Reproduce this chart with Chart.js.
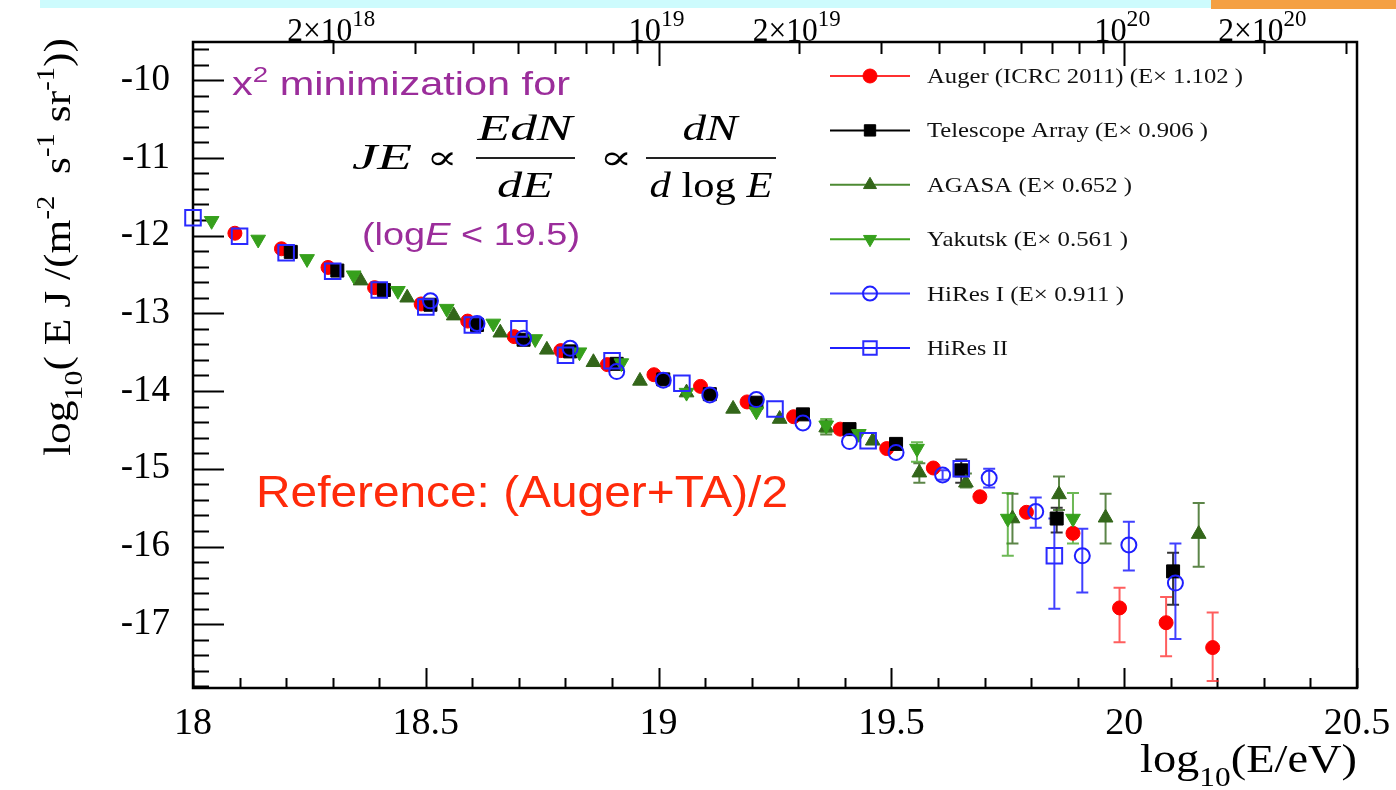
<!DOCTYPE html>
<html>
<head>
<meta charset="utf-8">
<script src="https://cdn.jsdelivr.net/npm/chart.js@4.4.1/dist/chart.umd.min.js"></script>
<style>
  html, body { margin: 0; padding: 0; background: #fff; }
  #wrap { position: relative; width: 1396px; height: 790px; overflow: hidden; }
  #c { position: absolute; left: 0; top: 0; }
  #barCyan { position: absolute; left: 40px; top: 0; width: 1171px; height: 8px; background: #cdfbfd; }
  #barOrange { position: absolute; left: 1211px; top: 0; width: 185px; height: 9px; background: #f4a043; }
</style>
</head>
<body>
<div id="wrap">
  <canvas id="c" width="1396" height="790"></canvas>
  <div id="barCyan"></div>
  <div id="barOrange"></div>
</div>
<script>
// ---------------- DATA ----------------
const xTickValues = [18, 18.5, 19, 19.5, 20, 20.5];
const yTickValues = [-17, -16, -15, -14, -13, -12, -11, -10];
const topTickEnergies = [2e18, 3e18, 4e18, 5e18, 6e18, 7e18, 8e18, 9e18, 1e19, 2e19, 3e19, 4e19, 5e19, 6e19, 7e19, 8e19, 9e19, 1e20, 2e20, 3e20];
const topLabelEnergies = [2e18, 1e19, 2e19, 1e20, 2e20];
const topLabelMantissa = ['2×10', '10', '2×10', '10', '2×10'];
const topLabelExponent = ['18', '19', '19', '20', '20'];

const seriesNames = ['Auger (ICRC 2011) (E× 1.102 )', 'Telescope Array (E× 0.906 )', 'AGASA (E× 0.652 )', 'Yakutsk (E× 0.561 )', 'HiRes I (E× 0.911 )', 'HiRes II'];

const augerX = [18.09, 18.19, 18.29, 18.39, 18.49, 18.59, 18.69, 18.79, 18.89, 18.99, 19.09, 19.19, 19.29, 19.39, 19.49, 19.59, 19.69, 19.79, 19.89, 19.99, 20.09, 20.19];
const augerY = [-11.97, -12.17, -12.41, -12.67, -12.88, -13.10, -13.30, -13.48, -13.66, -13.79, -13.94, -14.14, -14.33, -14.49, -14.74, -14.99, -15.36, -15.56, -15.83, -16.79, -16.98, -17.30];
const augerErrHigh = [null, null, null, null, null, null, null, null, null, null, null, null, null, null, null, null, null, null, null, -16.53, -16.65, -16.85];
const augerErrLow  = [null, null, null, null, null, null, null, null, null, null, null, null, null, null, null, null, null, null, null, -17.23, -17.41, -17.73];

const taX = [18.21, 18.31, 18.41, 18.51, 18.61, 18.71, 18.81, 18.91, 19.01, 19.11, 19.21, 19.31, 19.41, 19.51, 19.65, 19.855, 20.105];
const taY = [-12.21, -12.45, -12.70, -12.89, -13.15, -13.34, -13.49, -13.65, -13.85, -14.04, -14.15, -14.30, -14.49, -14.68, -15.02, -15.64, -16.32];
const taErrHigh = [null, null, null, null, null, null, null, null, null, null, null, null, null, null, -14.88, -15.50, -16.08];
const taErrLow  = [null, null, null, null, null, null, null, null, null, null, null, null, null, null, -15.18, -15.82, -16.75];

const agasaX = [18.36, 18.46, 18.56, 18.66, 18.76, 18.86, 18.96, 19.06, 19.16, 19.26, 19.36, 19.46, 19.56, 19.66, 19.76, 19.86, 19.96, 20.16];
const agasaY = [-12.58, -12.80, -13.03, -13.25, -13.47, -13.63, -13.87, -14.02, -14.23, -14.36, -14.47, -14.64, -15.05, -15.18, -15.64, -15.33, -15.63, -15.84];
const agasaErrHigh = [null, null, null, null, null, null, null, null, null, null, -14.39, null, -14.93, -15.06, -15.32, -15.10, -15.32, -15.44];
const agasaErrLow  = [null, null, null, null, null, null, null, null, null, null, -14.56, null, -15.18, -15.24, -15.96, -15.53, -15.96, -16.26];

const yakutskX = [18.04, 18.14, 18.245, 18.345, 18.44, 18.545, 18.645, 18.735, 18.83, 18.92, 19.06, 19.21, 19.36, 19.43, 19.555, 19.75, 19.89];
const yakutskY = [-11.81, -12.05, -12.30, -12.51, -12.71, -12.94, -13.13, -13.33, -13.50, -13.64, -14.02, -14.26, -14.44, -14.55, -14.74, -15.64, -15.64];
const yakutskErrHigh = [null, null, null, null, null, null, null, null, null, null, null, null, -14.36, null, -14.66, -15.31, -15.31];
const yakutskErrLow  = [null, null, null, null, null, null, null, null, null, null, null, null, -14.53, null, -14.91, -16.12, -15.96];

const hires1X = [18.51, 18.61, 18.71, 18.81, 18.91, 19.01, 19.11, 19.21, 19.31, 19.41, 19.51, 19.61, 19.71, 19.81, 19.91, 20.01, 20.11];
const hires1Y = [-12.84, -13.13, -13.32, -13.45, -13.75, -13.86, -14.05, -14.11, -14.41, -14.65, -14.79, -15.08, -15.12, -15.55, -16.12, -15.98, -16.47];
const hires1ErrHigh = [null, null, null, null, null, null, null, null, null, null, null, -15.02, -15.00, -15.37, -15.77, -15.68, -15.96];
const hires1ErrLow  = [null, null, null, null, null, null, null, null, null, null, null, -15.14, -15.24, -15.76, -16.59, -16.31, -17.19];

const hires2X = [18.00, 18.10, 18.20, 18.30, 18.40, 18.50, 18.60, 18.70, 18.80, 18.90, 19.05, 19.25, 19.45, 19.65, 19.85];
const hires2Y = [-11.77, -12.01, -12.22, -12.46, -12.70, -12.92, -13.15, -13.20, -13.54, -13.61, -13.90, -14.23, -14.64, -15.00, -16.12];
const hires2ErrHigh = [null, null, null, null, null, null, null, null, null, null, null, null, null, null, -15.64];
const hires2ErrLow  = [null, null, null, null, null, null, null, null, null, null, null, null, null, null, -16.80];

// ---------------- helpers ----------------
function pts(xs, ys) { return xs.map((x, i) => ({ x: x, y: ys[i] })); }

// draw a sequence of styled text runs, optionally stretched horizontally to a target width
function drawRuns(ctx, runs, x, y, targetWidth, align) {
  ctx.save();
  let natural = 0;
  const widths = runs.map(r => { ctx.font = r.font; const w = ctx.measureText(r.t).width + (r.gap || 0); natural += w; return w; });
  const sx = targetWidth ? targetWidth / natural : 1;
  const total = natural * sx;
  let startX = x;
  if (align === 'center') startX = x - total / 2;
  else if (align === 'right') startX = x - total;
  ctx.translate(startX, y);
  ctx.scale(sx, 1);
  ctx.textBaseline = 'alphabetic';
  ctx.textAlign = 'left';
  let cx = 0;
  runs.forEach((r, i) => {
    ctx.font = r.font;
    ctx.fillStyle = r.color || '#000';
    ctx.fillText(r.t, cx, r.dy || 0);
    cx += widths[i];
  });
  ctx.restore();
}

const SERIF = "'Liberation Serif', 'DejaVu Serif', serif";
const SANS = "'Liberation Sans', Arial, sans-serif";

// ---------------- plugins ----------------
const framePlugin = {
  id: 'frame',
  beforeDatasetsDraw(chart) {
    const { ctx, chartArea: { left, right, top, bottom }, scales: { x, y } } = chart;
    ctx.save();
    ctx.strokeStyle = '#000';
    ctx.lineWidth = 2;
    ctx.beginPath();
    // bottom axis ticks every 0.1
    for (let i = 0; i <= 25; i++) {
      const v = 18 + i * 0.1;
      const px = Math.round(x.getPixelForValue(v)) + 0.5;
      const len = (i % 5 === 0) ? 20 : 10;
      ctx.moveTo(px, bottom); ctx.lineTo(px, bottom - len);
    }
    // left axis ticks every 0.2
    for (let i = -89; i <= -48; i++) {
      const v = i * 0.2;
      const py = Math.round(y.getPixelForValue(v)) + 0.5;
      const major = (i % 5 === 0);
      ctx.moveTo(left, py); ctx.lineTo(left + (major ? 31 : 16), py);
    }
    // top log-energy axis ticks
    topTickEnergies.forEach(e => {
      const lg = Math.log10(e);
      const px = Math.round(x.getPixelForValue(lg)) + 0.5;
      const major = Math.abs(lg - Math.round(lg)) < 1e-9;
      ctx.moveTo(px, top); ctx.lineTo(px, top + (major ? 24 : 12));
    });
    ctx.stroke();
    ctx.lineWidth = 2.5;
    ctx.strokeRect(left, top, right - left, bottom - top);
    ctx.restore();

    // top axis labels
    topLabelEnergies.forEach((e, i) => {
      const px = x.getPixelForValue(Math.log10(e));
      const w = topLabelMantissa[i] === '10' ? 56 : 88;
      drawRuns(ctx, [
        { t: topLabelMantissa[i], font: '33px ' + SERIF },
        { t: topLabelExponent[i], font: '24px ' + SERIF, dy: -15 }
      ], px - 2, 41, w, 'center');
    });
  }
};

const errorBarPlugin = {
  id: 'errorBars',
  beforeDatasetsDraw(chart) {
    const { ctx, scales: { x, y } } = chart;
    ctx.save();
    chart.data.datasets.forEach(ds => {
      if (!ds.errLow) return;
      ctx.strokeStyle = ds.errColor;
      ctx.lineWidth = 2;
      ds.data.forEach((p, i) => {
        const lo = ds.errLow[i], hi = ds.errHigh[i];
        if (lo == null || hi == null) return;
        const px = x.getPixelForValue(p.x);
        const pyLo = y.getPixelForValue(lo), pyHi = y.getPixelForValue(hi);
        ctx.beginPath();
        ctx.moveTo(px, pyLo); ctx.lineTo(px, pyHi);
        ctx.moveTo(px - 6, pyLo); ctx.lineTo(px + 6, pyLo);
        ctx.moveTo(px - 6, pyHi); ctx.lineTo(px + 6, pyHi);
        ctx.stroke();
      });
    });
    ctx.restore();
  }
};

const textPlugin = {
  id: 'texts',
  afterDraw(chart) {
    const ctx = chart.ctx;
    const purple = '#9b2d9b';
    // chi2 annotation
    drawRuns(ctx, [
      { t: 'x', font: '33px ' + SANS, color: purple },
      { t: '2', font: '22px ' + SANS, color: purple, dy: -13 },
      { t: ' minimization for', font: '33px ' + SANS, color: purple }
    ], 232, 95, 338, 'left');
    drawRuns(ctx, [
      { t: '(log', font: '32px ' + SANS, color: purple },
      { t: 'E', font: 'italic 32px ' + SANS, color: purple },
      { t: ' < 19.5)', font: '32px ' + SANS, color: purple }
    ], 362, 245, 218, 'left');

    // formula  JE ∝ EdN/dE ∝ dN/(d log E)
    const mi = 'italic 36px ' + SERIF;
    const mr = '36px ' + SERIF;
    const prop = "34px 'DejaVu Serif', serif";
    drawRuns(ctx, [{ t: 'JE', font: mi }], 352, 169, 60, 'left');
    drawRuns(ctx, [{ t: '∝', font: prop }], 442, 169, 31, 'center');
    drawRuns(ctx, [{ t: 'EdN', font: mi }], 525, 140, 95, 'center');
    drawRuns(ctx, [{ t: 'dE', font: mi }], 525, 197, 56, 'center');
    drawRuns(ctx, [{ t: '∝', font: prop }], 616, 169, 33, 'center');
    drawRuns(ctx, [{ t: 'dN', font: mi }], 710, 140, 55, 'center');
    drawRuns(ctx, [
      { t: 'd ', font: mi },
      { t: 'log ', font: mr },
      { t: 'E', font: mi }
    ], 711, 197, 123, 'center');
    ctx.save();
    ctx.fillStyle = '#222';
    ctx.fillRect(476, 157, 99, 2);
    ctx.fillRect(646, 157, 130, 2);
    ctx.restore();

    // reference annotation
    drawRuns(ctx, [{ t: 'Reference: (Auger+TA)/2', font: '44px ' + SANS, color: '#ff2a0a' }], 256, 507, 532, 'left');

    // axis titles
    drawRuns(ctx, [
      { t: 'log', font: '40px ' + SERIF },
      { t: '10', font: '27px ' + SERIF, dy: 14 },
      { t: '(E/eV)', font: '40px ' + SERIF }
    ], 1357, 772, 217, 'right');

    ctx.save();
    ctx.translate(70, 456);
    ctx.rotate(-Math.PI / 2);
    drawRuns(ctx, [
      { t: 'log', font: '38px ' + SERIF },
      { t: '10', font: '26px ' + SERIF, dy: 12 },
      { t: '( E J /(m', font: '38px ' + SERIF },
      { t: '-2', font: '25px ' + SERIF, dy: -16 },
      { t: '  s', font: '38px ' + SERIF },
      { t: '-1', font: '25px ' + SERIF, dy: -16 },
      { t: ' sr', font: '38px ' + SERIF },
      { t: '-1', font: '25px ' + SERIF, dy: -16 },
      { t: '))', font: '38px ' + SERIF }
    ], 0, 0, 418, 'left');
    ctx.restore();

    // legend
    const legendWidths = [316, 281, 205, 201, 197, 81];
    const lineColors = ['#ff3030', '#000000', '#4d8a33', '#3fa11f', '#3d3dff', '#2020ff'];
    chart.data.datasets.forEach((ds, i) => {
      const yy = 76 + i * 54.4;
      ctx.save();
      ctx.strokeStyle = lineColors[i];
      ctx.lineWidth = 2;
      ctx.beginPath(); ctx.moveTo(830, yy); ctx.lineTo(910, yy); ctx.stroke();
      ctx.fillStyle = ds.pointBackgroundColor;
      ctx.strokeStyle = ds.pointBorderColor;
      ctx.lineWidth = ds.pointBorderWidth;
      Chart.helpers.drawPoint(ctx, {
        pointStyle: ds.pointStyle,
        radius: ds.legendRadius,
        rotation: ds.pointRotation || 0,
        borderWidth: ds.pointBorderWidth
      }, 870, yy);
      ctx.restore();
      drawRuns(ctx, [{ t: ds.label, font: '22px ' + SERIF, color: '#111' }], 927, yy + 7, legendWidths[i], 'left');
    });
  }
};

// ---------------- chart ----------------
function ds(label, xs, ys, lo, hi, style, radius, legendRadius, bg, border, bw, errColor, order, rotation) {
  return {
    label: label,
    data: pts(xs, ys),
    errLow: lo, errHigh: hi, errColor: errColor,
    pointStyle: style,
    pointRadius: radius,
    pointHoverRadius: radius,
    legendRadius: legendRadius,
    pointRotation: rotation || 0,
    pointBackgroundColor: bg,
    pointBorderColor: border,
    pointBorderWidth: bw,
    showLine: false,
    clip: false,
    order: order
  };
}

new Chart(document.getElementById('c').getContext('2d'), {
  type: 'scatter',
  data: {
    datasets: [
      ds(seriesNames[0], augerX, augerY, augerErrLow, augerErrHigh, 'circle', 7, 7, '#ff0000', '#ff0000', 1, 'rgba(255,40,40,0.75)', 6),
      ds(seriesNames[1], taX, taY, taErrLow, taErrHigh, 'rect', 9.2, 8, '#000000', '#000000', 1, 'rgba(0,0,0,0.8)', 5),
      ds(seriesNames[2], agasaX, agasaY, agasaErrLow, agasaErrHigh, 'triangle', 8.5, 7.5, '#33661a', '#33661a', 1, 'rgba(51,102,26,0.8)', 4),
      ds(seriesNames[3], yakutskX, yakutskY, yakutskErrLow, yakutskErrHigh, 'triangle', 8.5, 7.5, '#36a01c', '#36a01c', 1, 'rgba(60,160,30,0.75)', 3, 180),
      ds(seriesNames[4], hires1X, hires1Y, hires1ErrLow, hires1ErrHigh, 'circle', 7.5, 7, 'rgba(0,0,0,0)', '#1f1fff', 2, 'rgba(30,30,255,0.85)', 2),
      ds(seriesNames[5], hires2X, hires2Y, hires2ErrLow, hires2ErrHigh, 'rect', 11, 9.5, 'rgba(0,0,0,0)', '#2a2aff', 2, 'rgba(30,30,255,0.85)', 1)
    ]
  },
  options: {
    responsive: false,
    animation: false,
    events: [],
    layout: { padding: { top: 42, right: 39, left: 0, bottom: 0 } },
    plugins: { legend: { display: false }, tooltip: { enabled: false } },
    scales: {
      x: {
        type: 'linear', position: 'bottom', min: 18, max: 20.5,
        grid: { display: false }, border: { display: false },
        afterBuildTicks: s => { s.ticks = xTickValues.map(v => ({ value: v })); },
        afterFit: s => { s.height = 102; },
        ticks: { color: '#000', font: { family: SERIF, size: 38 }, padding: 5, maxRotation: 0, autoSkip: false, callback: v => String(v) }
      },
      y: {
        type: 'linear', position: 'left', min: -17.82, max: -9.51,
        grid: { display: false }, border: { display: false },
        afterBuildTicks: s => { s.ticks = yTickValues.map(v => ({ value: v })); },
        afterFit: s => { s.width = 193; },
        ticks: { color: '#000', font: { family: SERIF, size: 37 }, padding: 15, autoSkip: false, callback: v => String(v) }
      }
    }
  },
  plugins: [framePlugin, errorBarPlugin, textPlugin]
});
</script>
</body>
</html>
